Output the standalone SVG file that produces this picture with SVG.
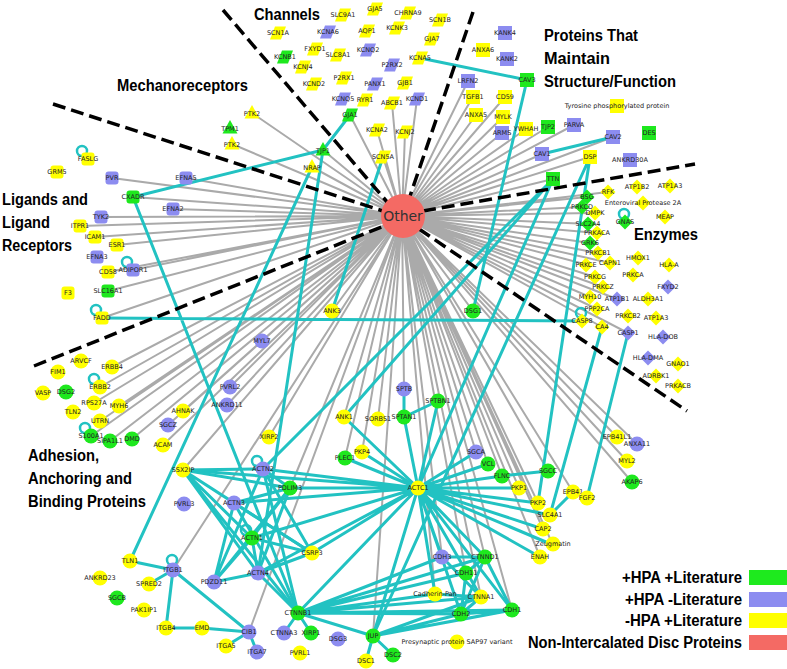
<svg xmlns="http://www.w3.org/2000/svg" width="787" height="669" viewBox="0 0 787 669">
<style>
.g{stroke:#aaa;stroke-width:2;fill:none}
.t{stroke:#22c2c2;stroke-width:3;fill:none}
.lp{stroke:#22c2c2;stroke-width:2.5;fill:none}
.d{stroke:#000;stroke-width:3.5;stroke-dasharray:13 6;fill:none}
.G{fill:#1ee81e}.B{fill:#8c8cf0}.Y{fill:#ffff00}.R{fill:#f46a64}
#nodes text{font-family:"DejaVu Sans",sans-serif;font-size:6.5px;fill:#222;text-anchor:middle;dominant-baseline:central}
.h{font-family:"Liberation Sans",Arial,sans-serif;font-weight:bold;font-size:16px;fill:#000}
.lg{font-family:"Liberation Sans",Arial,sans-serif;font-weight:bold;font-size:16px;fill:#000;text-anchor:end}
</style>
<defs>
<rect id="sq" x="-7" y="-7" width="14" height="14"/>
<rect id="rs" x="-6.5" y="-6.5" width="13" height="13" rx="3"/>
<circle id="ci" r="7.5"/>
<path id="di" d="M0-7.5L7.5 0 0 7.5-7.5 0Z"/>
<path id="pa" d="M-3-6.5H8L3 6.5H-8Z"/>
<path id="tr" d="M0-8L7.5 5.5H-7.5Z"/>
<circle id="loop" cx="-6" cy="-8" r="5"/>
</defs>
<rect width="787" height="669" fill="#fff"/>
<g id="connectors">
<g id="grey-edges" class="g">
<path d="M402 216L350 115M402 216L377 130M402 216L405 132M402 216L383 157M402 216L392 103M402 216L417 99"/>
<path d="M402 216L252 113M402 216L232 144M402 216L323 150M402 216L312 167"/>
<path d="M402 216L468 81M402 216L473 97M402 216L505 97M402 216L476 115M402 216L503 117M402 216L502 133M402 216L526 129M402 216L548 127M402 216L574 125M402 216L542 154M402 216L553 179M402 216L613 137M402 216L590 157"/>
<path d="M402 216L112 178M402 216L186 178M402 216L133 197M402 216L173 209M402 216L101 217M402 216L80 226M402 216L95 237M402 216L117 245M402 216L133 270M402 216L108 272M402 216L108 291M402 216L102 318"/>
<path d="M402 216L587 197M402 216L582 207M402 216L595 213M402 216L590 224M402 216L597 233M402 216L590 243M402 216L598 253M402 216L588 265M402 216L610 263M402 216L595 277M402 216L603 287M402 216L590 297M402 216L617 299M402 216L597 309M402 216L602 327M402 216L628 333M402 216L608 192"/>
<path d="M402 216L112 367M402 216L100 387M402 216L94 403M402 216L119 406M402 216L100 421M402 216L91 436M402 216L110 441M402 216L132 439M402 216L183 411M402 216L168 425M402 216L163 445M402 216L262 341M402 216L230 387M402 216L227 405M402 216L269 437M402 216L183 470M402 216L173 570M402 216L249 632M402 216L290 488"/>
<path d="M402 216L332 311M402 216L344 417M402 216L378 419M402 216L404 389M402 216L345 458M402 216L362 452M402 216L373 636M402 216L473 311M402 216L476 452M402 216L488 464M402 216L502 476M402 216L548 471M402 216L519 488M402 216L538 503M402 216L573 492M402 216L543 529M402 216L553 545M402 216L540 557M402 216L485 557M402 216L512 610M402 216L481 597M402 216L466 573M402 216L442 557M402 216L617 437M402 216L637 444M402 216L627 461M402 216L632 482M402 216L435 594"/>
</g>
<g id="teal-edges" class="t">
<path d="M420 58L527 80M527 80L473 311M542 154L613 137M323 150L350 115M323 150L133 197M323 150L258 573M312 167L130 561M332 311L383 157M133 197L298 613M102 318L582 321M602 327L550 515M628 333L587 498M573 492L550 515M502 476L548 471"/>
<path d="M130 561L173 570M173 570L149 584M173 570L166 628M173 570L249 632M166 628L202 628M202 628L249 632M249 632L226 646M249 632L257 652"/>
<path d="M404 389L404 417M404 417L438 401M404 417L418 488M438 401L418 488M344 417L418 488M553 179L263 469M553 179L344 417M553 179L418 488M590 157L373 636M590 157L538 503"/>
<path d="M418 488L476 452M418 488L488 464M418 488L502 476M418 488L519 488M418 488L538 503M418 488L550 515M418 488L543 529M418 488L553 545M418 488L540 557M418 488L442 557M418 488L485 557M418 488L435 594M418 488L461 614M418 488L512 610M418 488L481 597M418 488L345 458M418 488L362 452M418 488L263 469M418 488L290 488M418 488L234 503M418 488L252 538M418 488L312 553M418 488L258 573M418 488L298 613M418 488L183 470M418 488L373 636"/>
<path d="M183 470L263 469M183 470L234 503M183 470L252 538M183 470L312 553M183 470L258 573M183 470L298 613M183 470L290 488"/>
<path d="M263 469L290 488M263 469L312 553M263 469L214 582M263 469L298 613M290 488L234 503M290 488L252 538M290 488L214 582M290 488L258 573M234 503L312 553M234 503L298 613M234 503L214 582M252 538L312 553M252 538L214 582M252 538L258 573M258 573L312 553M258 573L214 582M258 573L298 613"/>
<path d="M298 613L284 633M298 613L311 633M298 613L461 614M298 613L512 610M298 613L481 597M298 613L435 594M298 613L466 573M298 613L485 557M298 613L442 557M298 613L373 636"/>
<path d="M373 636L366 661M373 636L393 655M373 636L512 610M373 636L461 614M373 636L481 597M442 557L485 557M442 557L481 597M485 557L466 573M485 557L512 610M485 557L461 614M435 594L481 597M481 597L461 614M461 614L512 610M466 573L461 614"/>
</g>
<g id="self-loops" class="lp">
<use href="#loop" x="88" y="159"/><use href="#loop" x="133" y="270"/><use href="#loop" x="102" y="318"/><use href="#loop" x="100" y="387"/><use href="#loop" x="91" y="436"/><use href="#loop" x="630" y="222"/><use href="#loop" x="587" y="321"/><use href="#loop" x="263" y="469"/><use href="#loop" x="252" y="538"/><use href="#loop" x="178" y="568"/>
</g>
</g>
<g id="separators" class="d">
<path d="M223 10L388 203M473 12L410 196M53 104L383 211M423 211L695 164M419 229L687 411M34 366L384 226"/>
</g>
<g id="nodes">
<g id="n_Other" transform="translate(403 216)"><circle r="22" class="R"/><text style="font-size:14px;fill:#333">Other</text></g>
<g id="n_GJA5" transform="translate(375 9)"><use href="#pa" class="Y"/><text>GJA5</text></g>
<g id="n_SLC9A1" transform="translate(343 15)"><use href="#pa" class="Y"/><text>SLC9A1</text></g>
<g id="n_CHRNA9" transform="translate(408 13)"><use href="#pa" class="Y"/><text>CHRNA9</text></g>
<g id="n_SCN1B" transform="translate(440 20)"><use href="#pa" class="Y"/><text>SCN1B</text></g>
<g id="n_KCNK3" transform="translate(397 28)"><use href="#pa" class="Y"/><text>KCNK3</text></g>
<g id="n_SCN1A" transform="translate(278 33)"><use href="#pa" class="Y"/><text>SCN1A</text></g>
<g id="n_KCNA6" transform="translate(328 32)"><use href="#pa" class="B"/><text>KCNA6</text></g>
<g id="n_AQP1" transform="translate(367 31)"><use href="#pa" class="Y"/><text>AQP1</text></g>
<g id="n_GJA7" transform="translate(432 39)"><use href="#pa" class="Y"/><text>GJA7</text></g>
<g id="n_FXYD1" transform="translate(315 49)"><use href="#pa" class="Y"/><text>FXYD1</text></g>
<g id="n_KCNQ2" transform="translate(368 50)"><use href="#pa" class="B"/><text>KCNQ2</text></g>
<g id="n_SLC8A1" transform="translate(338 55)"><use href="#pa" class="Y"/><text>SLC8A1</text></g>
<g id="n_KCNB1" transform="translate(285 57)"><use href="#pa" class="G"/><text>KCNB1</text></g>
<g id="n_KCNA5" transform="translate(420 58)"><use href="#pa" class="Y"/><text>KCNA5</text></g>
<g id="n_P2RX2" transform="translate(392 65)"><use href="#pa" class="B"/><text>P2RX2</text></g>
<g id="n_KCNJ4" transform="translate(303 67)"><use href="#pa" class="Y"/><text>KCNJ4</text></g>
<g id="n_P2RX1" transform="translate(344 78)"><use href="#pa" class="Y"/><text>P2RX1</text></g>
<g id="n_GJB1" transform="translate(405 83)"><use href="#pa" class="Y"/><text>GJB1</text></g>
<g id="n_KCND2" transform="translate(314 84)"><use href="#pa" class="Y"/><text>KCND2</text></g>
<g id="n_PANX1" transform="translate(375 84)"><use href="#pa" class="B"/><text>PANX1</text></g>
<g id="n_KCNQ5" transform="translate(343 99)"><use href="#pa" class="B"/><text>KCNQ5</text></g>
<g id="n_RYR1" transform="translate(365 100)"><use href="#pa" class="Y"/><text>RYR1</text></g>
<g id="n_KCND1" transform="translate(417 99)"><use href="#pa" class="B"/><text>KCND1</text></g>
<g id="n_ABCB1" transform="translate(392 103)"><use href="#pa" class="Y"/><text>ABCB1</text></g>
<g id="n_GJA1" transform="translate(350 115)"><use href="#pa" class="G"/><text>GJA1</text></g>
<g id="n_KCNA2" transform="translate(377 130)"><use href="#pa" class="Y"/><text>KCNA2</text></g>
<g id="n_KCNJ2" transform="translate(405 132)"><use href="#pa" class="Y"/><text>KCNJ2</text></g>
<g id="n_SCN5A" transform="translate(383 157)"><use href="#pa" class="Y"/><text>SCN5A</text></g>
<g id="n_PTK2_a" transform="translate(252 113)"><use href="#tr" class="Y"/><text y="1">PTK2</text></g>
<g id="n_TPM1" transform="translate(230 128)"><use href="#tr" class="G"/><text y="1">TPM1</text></g>
<g id="n_PTK2_b" transform="translate(232 144)"><use href="#tr" class="Y"/><text y="1">PTK2</text></g>
<g id="n_TJP1" transform="translate(323 150)"><use href="#tr" class="G"/><text y="1">TJP1</text></g>
<g id="n_NRAP" transform="translate(312 167)"><use href="#tr" class="Y"/><text y="1">NRAP</text></g>
<g id="n_KANK4" transform="translate(505 33)"><use href="#sq" class="B"/><text>KANK4</text></g>
<g id="n_ANXA6" transform="translate(483 50)"><use href="#sq" class="Y"/><text>ANXA6</text></g>
<g id="n_KANK2" transform="translate(507 59)"><use href="#sq" class="B"/><text>KANK2</text></g>
<g id="n_CAV3" transform="translate(527 80)"><use href="#sq" class="G"/><text>CAV3</text></g>
<g id="n_LRFN2" transform="translate(468 81)"><use href="#sq" class="B"/><text>LRFN2</text></g>
<g id="n_TGFB1" transform="translate(473 97)"><use href="#sq" class="Y"/><text>TGFB1</text></g>
<g id="n_CD59" transform="translate(505 97)"><use href="#sq" class="Y"/><text>CD59</text></g>
<g id="n_TyrP" transform="translate(617 106)"><use href="#sq" class="Y"/><text>Tyrosine phosphorylated protein</text></g>
<g id="n_ANXA5" transform="translate(476 115)"><use href="#sq" class="Y"/><text>ANXA5</text></g>
<g id="n_MYLK" transform="translate(503 117)"><use href="#sq" class="Y"/><text>MYLK</text></g>
<g id="n_ARMS" transform="translate(502 133)"><use href="#sq" class="B"/><text>ARMS</text></g>
<g id="n_YWHAH" transform="translate(526 129)"><use href="#sq" class="Y"/><text>YWHAH</text></g>
<g id="n_TJP2" transform="translate(548 127)"><use href="#sq" class="G"/><text>TJP2</text></g>
<g id="n_PARVA" transform="translate(574 125)"><use href="#sq" class="B"/><text>PARVA</text></g>
<g id="n_DES" transform="translate(649 133)"><use href="#sq" class="G"/><text>DES</text></g>
<g id="n_CAV2" transform="translate(613 137)"><use href="#sq" class="B"/><text>CAV2</text></g>
<g id="n_CAV1" transform="translate(542 154)"><use href="#sq" class="B"/><text>CAV1</text></g>
<g id="n_DSP" transform="translate(590 157)"><use href="#sq" class="Y"/><text>DSP</text></g>
<g id="n_ANKRD30A" transform="translate(630 160)"><use href="#sq" class="B"/><text>ANKRD30A</text></g>
<g id="n_TTN" transform="translate(553 179)"><use href="#sq" class="G"/><text>TTN</text></g>
<g id="n_FASLG" transform="translate(88 159)"><use href="#rs" class="Y"/><text>FASLG</text></g>
<g id="n_GRM5" transform="translate(57 172)"><use href="#rs" class="Y"/><text>GRM5</text></g>
<g id="n_PVR" transform="translate(112 178)"><use href="#rs" class="B"/><text>PVR</text></g>
<g id="n_EFNA5" transform="translate(186 178)"><use href="#rs" class="B"/><text>EFNA5</text></g>
<g id="n_CXADR" transform="translate(133 197)"><use href="#rs" class="G"/><text>CXADR</text></g>
<g id="n_EFNA2" transform="translate(173 209)"><use href="#rs" class="B"/><text>EFNA2</text></g>
<g id="n_TYK2" transform="translate(101 217)"><use href="#rs" class="B"/><text>TYK2</text></g>
<g id="n_ITPR1" transform="translate(80 226)"><use href="#rs" class="Y"/><text>ITPR1</text></g>
<g id="n_ICAM1" transform="translate(95 237)"><use href="#rs" class="Y"/><text>ICAM1</text></g>
<g id="n_ESR1" transform="translate(117 245)"><use href="#rs" class="Y"/><text>ESR1</text></g>
<g id="n_EFNA3" transform="translate(97 257)"><use href="#rs" class="B"/><text>EFNA3</text></g>
<g id="n_ADIPOR1" transform="translate(133 270)"><use href="#rs" class="B"/><text>ADIPOR1</text></g>
<g id="n_CD58" transform="translate(108 272)"><use href="#rs" class="Y"/><text>CD58</text></g>
<g id="n_F3" transform="translate(68 293)"><use href="#rs" class="Y"/><text>F3</text></g>
<g id="n_SLC16A1" transform="translate(108 291)"><use href="#rs" class="G"/><text>SLC16A1</text></g>
<g id="n_FADD" transform="translate(102 318)"><use href="#rs" class="Y"/><text>FADD</text></g>
<g id="n_RFK" transform="translate(608 192)"><use href="#di" class="Y"/><text>RFK</text></g>
<g id="n_ATP1B2" transform="translate(637 187)"><use href="#di" class="Y"/><text>ATP1B2</text></g>
<g id="n_ATP1A3_a" transform="translate(670 186)"><use href="#di" class="Y"/><text>ATP1A3</text></g>
<g id="n_BSG" transform="translate(587 197)"><use href="#di" class="G"/><text>BSG</text></g>
<g id="n_EP2A" transform="translate(643 203)"><use href="#di" class="Y"/><text>Enteroviral Protease 2A</text></g>
<g id="n_PRKCD" transform="translate(582 207)"><use href="#di" class="G"/><text>PRKCD</text></g>
<g id="n_DMPK" transform="translate(595 213)"><use href="#di" class="Y"/><text>DMPK</text></g>
<g id="n_MEAP" transform="translate(665 217)"><use href="#di" class="Y"/><text>MEAP</text></g>
<g id="n_GNAS" transform="translate(625 222)"><use href="#di" class="G"/><text>GNAS</text></g>
<g id="n_SLC2A4" transform="translate(588 224)"><use href="#di" class="G"/><text>SLC2A4</text></g>
<g id="n_PRKACA" transform="translate(597 233)"><use href="#di" class="Y"/><text>PRKACA</text></g>
<g id="n_GRK6" transform="translate(590 243)"><use href="#di" class="G"/><text>GRK6</text></g>
<g id="n_PRKCB1" transform="translate(598 253)"><use href="#di" class="Y"/><text>PRKCB1</text></g>
<g id="n_CAPN1" transform="translate(610 263)"><use href="#di" class="Y"/><text>CAPN1</text></g>
<g id="n_HMOX1" transform="translate(638 258)"><use href="#di" class="Y"/><text>HMOX1</text></g>
<g id="n_PRKCE" transform="translate(586 265)"><use href="#di" class="Y"/><text>PRKCE</text></g>
<g id="n_HLA-A" transform="translate(669 265)"><use href="#di" class="Y"/><text>HLA-A</text></g>
<g id="n_PRKCA" transform="translate(633 275)"><use href="#di" class="Y"/><text>PRKCA</text></g>
<g id="n_PRKCG" transform="translate(595 277)"><use href="#di" class="Y"/><text>PRKCG</text></g>
<g id="n_PRKCZ" transform="translate(603 287)"><use href="#di" class="Y"/><text>PRKCZ</text></g>
<g id="n_FXYD2" transform="translate(668 287)"><use href="#di" class="B"/><text>FXYD2</text></g>
<g id="n_MYH10" transform="translate(590 297)"><use href="#di" class="Y"/><text>MYH10</text></g>
<g id="n_ATP1B1" transform="translate(617 299)"><use href="#di" class="B"/><text>ATP1B1</text></g>
<g id="n_ALDH3A1" transform="translate(648 299)"><use href="#di" class="Y"/><text>ALDH3A1</text></g>
<g id="n_PPP2CA" transform="translate(597 309)"><use href="#di" class="Y"/><text>PPP2CA</text></g>
<g id="n_PRKCB2" transform="translate(628 316)"><use href="#di" class="Y"/><text>PRKCB2</text></g>
<g id="n_ATP1A3_b" transform="translate(656 318)"><use href="#di" class="Y"/><text>ATP1A3</text></g>
<g id="n_CASP8" transform="translate(582 321)"><use href="#di" class="Y"/><text>CASP8</text></g>
<g id="n_CA4" transform="translate(602 327)"><use href="#di" class="Y"/><text>CA4</text></g>
<g id="n_CASP1" transform="translate(628 333)"><use href="#di" class="B"/><text>CASP1</text></g>
<g id="n_HLA-DOB" transform="translate(663 337)"><use href="#di" class="B"/><text>HLA-DOB</text></g>
<g id="n_HLA-DMA" transform="translate(648 358)"><use href="#di" class="B"/><text>HLA-DMA</text></g>
<g id="n_GNAO1" transform="translate(678 364)"><use href="#di" class="Y"/><text>GNAO1</text></g>
<g id="n_ADRBK1" transform="translate(656 376)"><use href="#di" class="Y"/><text>ADRBK1</text></g>
<g id="n_PRKACB" transform="translate(678 386)"><use href="#di" class="Y"/><text>PRKACB</text></g>
<g id="n_ARVCF" transform="translate(81 361)"><use href="#ci" class="Y"/><text>ARVCF</text></g>
<g id="n_FIM1" transform="translate(58 372)"><use href="#ci" class="Y"/><text>FIM1</text></g>
<g id="n_ERBB4" transform="translate(112 367)"><use href="#ci" class="Y"/><text>ERBB4</text></g>
<g id="n_ERBB2" transform="translate(100 387)"><use href="#ci" class="Y"/><text>ERBB2</text></g>
<g id="n_VASP" transform="translate(43 393)"><use href="#ci" class="Y"/><text>VASP</text></g>
<g id="n_DSG2" transform="translate(66 392)"><use href="#ci" class="G"/><text>DSG2</text></g>
<g id="n_RPS27A" transform="translate(94 403)"><use href="#ci" class="Y"/><text>RPS27A</text></g>
<g id="n_MYH6" transform="translate(119 406)"><use href="#ci" class="Y"/><text>MYH6</text></g>
<g id="n_TLN2" transform="translate(73 412)"><use href="#ci" class="Y"/><text>TLN2</text></g>
<g id="n_AHNAK" transform="translate(183 411)"><use href="#ci" class="Y"/><text>AHNAK</text></g>
<g id="n_UTRN" transform="translate(100 421)"><use href="#ci" class="Y"/><text>UTRN</text></g>
<g id="n_SGCZ" transform="translate(168 425)"><use href="#ci" class="B"/><text>SGCZ</text></g>
<g id="n_S100A1" transform="translate(91 436)"><use href="#ci" class="G"/><text>S100A1</text></g>
<g id="n_DMD" transform="translate(132 439)"><use href="#ci" class="G"/><text>DMD</text></g>
<g id="n_SIPA1L1" transform="translate(110 441)"><use href="#ci" class="G"/><text>SIPA1L1</text></g>
<g id="n_ACAM" transform="translate(163 445)"><use href="#ci" class="Y"/><text>ACAM</text></g>
<g id="n_MYL7" transform="translate(262 341)"><use href="#ci" class="B"/><text>MYL7</text></g>
<g id="n_PVRL2" transform="translate(230 387)"><use href="#ci" class="B"/><text>PVRL2</text></g>
<g id="n_ANKRD11" transform="translate(227 405)"><use href="#ci" class="B"/><text>ANKRD11</text></g>
<g id="n_ANK3" transform="translate(332 311)"><use href="#ci" class="Y"/><text>ANK3</text></g>
<g id="n_DSG1" transform="translate(473 311)"><use href="#ci" class="G"/><text>DSG1</text></g>
<g id="n_SPTB" transform="translate(404 389)"><use href="#ci" class="B"/><text>SPTB</text></g>
<g id="n_SPTBN1" transform="translate(438 401)"><use href="#ci" class="G"/><text>SPTBN1</text></g>
<g id="n_SPTAN1" transform="translate(404 417)"><use href="#ci" class="G"/><text>SPTAN1</text></g>
<g id="n_ANK1" transform="translate(344 417)"><use href="#ci" class="Y"/><text>ANK1</text></g>
<g id="n_SORBS1" transform="translate(378 419)"><use href="#ci" class="Y"/><text>SORBS1</text></g>
<g id="n_XIRP2" transform="translate(269 437)"><use href="#ci" class="Y"/><text>XIRP2</text></g>
<g id="n_EPB41L1" transform="translate(617 437)"><use href="#ci" class="Y"/><text>EPB41L1</text></g>
<g id="n_ANXA11" transform="translate(637 444)"><use href="#ci" class="B"/><text>ANXA11</text></g>
<g id="n_PKP4" transform="translate(362 452)"><use href="#ci" class="Y"/><text>PKP4</text></g>
<g id="n_SGCA" transform="translate(476 452)"><use href="#ci" class="B"/><text>SGCA</text></g>
<g id="n_PLEC1" transform="translate(345 458)"><use href="#ci" class="G"/><text>PLEC1</text></g>
<g id="n_MYL2" transform="translate(627 461)"><use href="#ci" class="Y"/><text>MYL2</text></g>
<g id="n_VCL" transform="translate(488 464)"><use href="#ci" class="G"/><text>VCL</text></g>
<g id="n_ACTN2" transform="translate(263 469)"><use href="#ci" class="B"/><text>ACTN2</text></g>
<g id="n_SSX2IP" transform="translate(183 470)"><use href="#ci" class="Y"/><text>SSX2IP</text></g>
<g id="n_SGCC" transform="translate(548 471)"><use href="#ci" class="G"/><text>SGCC</text></g>
<g id="n_FLNC" transform="translate(502 476)"><use href="#ci" class="G"/><text>FLNC</text></g>
<g id="n_AKAP6" transform="translate(632 482)"><use href="#ci" class="G"/><text>AKAP6</text></g>
<g id="n_ACTC1" transform="translate(418 488)"><use href="#ci" class="Y"/><text>ACTC1</text></g>
<g id="n_PKP1" transform="translate(519 488)"><use href="#ci" class="Y"/><text>PKP1</text></g>
<g id="n_PDLIM3" transform="translate(290 488)"><use href="#ci" class="G"/><text>PDLIM3</text></g>
<g id="n_EPB41" transform="translate(573 492)"><use href="#ci" class="Y"/><text>EPB41</text></g>
<g id="n_FGF2" transform="translate(587 498)"><use href="#ci" class="Y"/><text>FGF2</text></g>
<g id="n_ACTN3" transform="translate(234 503)"><use href="#ci" class="B"/><text>ACTN3</text></g>
<g id="n_PKP2" transform="translate(538 503)"><use href="#ci" class="Y"/><text>PKP2</text></g>
<g id="n_PVRL3" transform="translate(184 504)"><use href="#ci" class="B"/><text>PVRL3</text></g>
<g id="n_SLC4A1" transform="translate(550 515)"><use href="#ci" class="Y"/><text>SLC4A1</text></g>
<g id="n_CAP2" transform="translate(543 529)"><use href="#ci" class="Y"/><text>CAP2</text></g>
<g id="n_ACTN1" transform="translate(252 538)"><use href="#ci" class="G"/><text>ACTN1</text></g>
<g id="n_Zeugmatin" transform="translate(553 544)"><use href="#ci" class="Y"/><text>Zeugmatin</text></g>
<g id="n_CSRP3" transform="translate(312 553)"><use href="#ci" class="Y"/><text>CSRP3</text></g>
<g id="n_CDH3" transform="translate(442 557)"><use href="#ci" class="B"/><text>CDH3</text></g>
<g id="n_CTNND1" transform="translate(485 557)"><use href="#ci" class="G"/><text>CTNND1</text></g>
<g id="n_ENAH" transform="translate(540 557)"><use href="#ci" class="Y"/><text>ENAH</text></g>
<g id="n_TLN1" transform="translate(130 561)"><use href="#ci" class="Y"/><text>TLN1</text></g>
<g id="n_ITGB1" transform="translate(173 570)"><use href="#ci" class="B"/><text>ITGB1</text></g>
<g id="n_ACTN4" transform="translate(258 573)"><use href="#ci" class="B"/><text>ACTN4</text></g>
<g id="n_CDH11" transform="translate(466 573)"><use href="#ci" class="G"/><text>CDH11</text></g>
<g id="n_ANKRD23" transform="translate(100 578)"><use href="#ci" class="Y"/><text>ANKRD23</text></g>
<g id="n_PDZD11" transform="translate(214 582)"><use href="#ci" class="B"/><text>PDZD11</text></g>
<g id="n_SPRED2" transform="translate(149 584)"><use href="#ci" class="Y"/><text>SPRED2</text></g>
<g id="n_Cadherin-Pan" transform="translate(435 594)"><use href="#ci" class="Y"/><text>Cadherin-Pan</text></g>
<g id="n_CTNNA1" transform="translate(481 597)"><use href="#ci" class="Y"/><text>CTNNA1</text></g>
<g id="n_SGCB" transform="translate(117 598)"><use href="#ci" class="G"/><text>SGCB</text></g>
<g id="n_CDH1" transform="translate(512 610)"><use href="#ci" class="G"/><text>CDH1</text></g>
<g id="n_PAK1IP1" transform="translate(144 610)"><use href="#ci" class="Y"/><text>PAK1IP1</text></g>
<g id="n_CTNNB1" transform="translate(298 613)"><use href="#ci" class="G"/><text>CTNNB1</text></g>
<g id="n_CDH2" transform="translate(461 614)"><use href="#ci" class="G"/><text>CDH2</text></g>
<g id="n_ITGB4" transform="translate(166 628)"><use href="#ci" class="Y"/><text>ITGB4</text></g>
<g id="n_EMD" transform="translate(202 628)"><use href="#ci" class="Y"/><text>EMD</text></g>
<g id="n_CIB1" transform="translate(249 632)"><use href="#ci" class="B"/><text>CIB1</text></g>
<g id="n_CTNNA3" transform="translate(284 633)"><use href="#ci" class="B"/><text>CTNNA3</text></g>
<g id="n_XIRP1" transform="translate(311 633)"><use href="#ci" class="G"/><text>XIRP1</text></g>
<g id="n_JUP" transform="translate(373 636)"><use href="#ci" class="G"/><text>JUP</text></g>
<g id="n_DSG3" transform="translate(338 639)"><use href="#ci" class="B"/><text>DSG3</text></g>
<g id="n_SAP97" transform="translate(457 642)"><use href="#ci" class="Y"/><text>Presynaptic protein SAP97 variant</text></g>
<g id="n_ITGA5" transform="translate(226 646)"><use href="#ci" class="Y"/><text>ITGA5</text></g>
<g id="n_ITGA7" transform="translate(257 652)"><use href="#ci" class="B"/><text>ITGA7</text></g>
<g id="n_PVRL1" transform="translate(300 653)"><use href="#ci" class="Y"/><text>PVRL1</text></g>
<g id="n_DSC2" transform="translate(393 655)"><use href="#ci" class="G"/><text>DSC2</text></g>
<g id="n_DSC1" transform="translate(366 661)"><use href="#ci" class="Y"/><text>DSC1</text></g>
</g>
<g id="titles">
<text class="h" x="254" y="20" textLength="66" lengthAdjust="spacingAndGlyphs">Channels</text>
<text class="h" x="117" y="91" textLength="131" lengthAdjust="spacingAndGlyphs">Mechanoreceptors</text>
<text class="h" x="544" y="41" textLength="94" lengthAdjust="spacingAndGlyphs">Proteins That</text>
<text class="h" x="544" y="64" textLength="66" lengthAdjust="spacingAndGlyphs">Maintain</text>
<text class="h" x="544" y="87" textLength="132" lengthAdjust="spacingAndGlyphs">Structure/Function</text>
<text class="h" x="2" y="205" textLength="86" lengthAdjust="spacingAndGlyphs">Ligands and</text>
<text class="h" x="2" y="228" textLength="48" lengthAdjust="spacingAndGlyphs">Ligand</text>
<text class="h" x="2" y="251" textLength="70" lengthAdjust="spacingAndGlyphs">Receptors</text>
<text class="h" x="634" y="240" textLength="64" lengthAdjust="spacingAndGlyphs">Enzymes</text>
<text class="h" x="28" y="461" textLength="71" lengthAdjust="spacingAndGlyphs">Adhesion,</text>
<text class="h" x="28" y="484" textLength="104" lengthAdjust="spacingAndGlyphs">Anchoring and</text>
<text class="h" x="28" y="507" textLength="118" lengthAdjust="spacingAndGlyphs">Binding Proteins</text>
</g>
<g id="legend">
<rect x="749" y="570" width="38" height="15" fill="#1eea1e"/>
<rect x="749" y="592" width="38" height="15" fill="#8c8cf0"/>
<rect x="749" y="613" width="38" height="15" fill="#ffff00"/>
<rect x="749" y="635" width="38" height="15" fill="#f46a64"/>
<text class="lg" x="742" y="583" textLength="120" lengthAdjust="spacingAndGlyphs">+HPA +Literature</text>
<text class="lg" x="742" y="605" textLength="117" lengthAdjust="spacingAndGlyphs">+HPA -Literature</text>
<text class="lg" x="742" y="626" textLength="117" lengthAdjust="spacingAndGlyphs">-HPA +Literature</text>
<text class="lg" x="742" y="648" textLength="214" lengthAdjust="spacingAndGlyphs">Non-Intercalated Disc Proteins</text>
</g>
</svg>
